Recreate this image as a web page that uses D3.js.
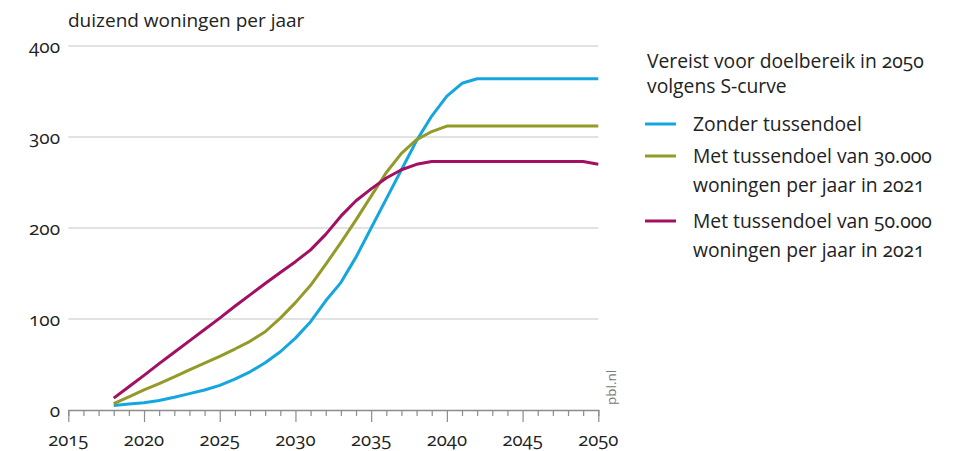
<!DOCTYPE html>
<html>
<head>
<meta charset="utf-8">
<script src="https://cdn.jsdelivr.net/npm/d3@7"></script>
<style>
  html, body { margin: 0; padding: 0; background: #fff; }
  svg { display: block; }
  text { font-family: "Open Sans", "Noto Sans", sans-serif; fill: #222; font-feature-settings: "onum"; }
</style>
</head>
<body>
<svg id="chart" width="955" height="451"></svg>
<script>
// ---- data ----
const years = d3.range(2018, 2051);
const zonderTussendoel = [5, 6.5, 8, 10.5, 14, 18, 22, 27, 34, 42, 52, 64, 79, 97, 120, 140, 168, 200, 232, 264, 296, 323, 345, 359, 364, 364, 364, 364, 364, 364, 364, 364, 364];
const tussendoel30 = [7, 14.5, 22, 29, 36.5, 44, 51.5, 59, 67, 75.5, 86, 101, 118, 137, 160, 184, 209, 235, 261, 282, 297, 306, 312, 312, 312, 312, 312, 312, 312, 312, 312, 312, 312];
const tussendoel50 = [13, 25.5, 38, 51, 63.5, 76, 88.5, 101, 114, 126.5, 139, 151, 163, 176, 193, 213, 230, 243, 255, 264, 270, 273, 273, 273, 273, 273, 273, 273, 273, 273, 273, 273, 270];
const seriesNames = ["Zonder tussendoel", "Met tussendoel van 30.000\nwoningen per jaar in 2021", "Met tussendoel van 50.000\nwoningen per jaar in 2021"];
const seriesColors = ["#15a6df", "#939a28", "#a20f63"];
const yTicks = [0, 100, 200, 300, 400];
const xTicks = [2015, 2020, 2025, 2030, 2035, 2040, 2045, 2050];
const yLabel = "duizend woningen per jaar";
const legendTitle = ["Vereist voor doelbereik in 2050", "volgens S-curve"];
const sourceLabel = "pbl.nl";

// ---- layout ----
const svg = d3.select("#chart");
const x = d3.scaleLinear().domain([2015, 2050]).range([68.3, 598.3]);
const y = d3.scaleLinear().domain([0, 400]).range([410, 46]);

// gridlines
svg.append("g").selectAll("line").data(yTicks.filter(d => d > 0)).join("line")
  .attr("x1", x(2015)).attr("x2", x(2050))
  .attr("y1", d => y(d)).attr("y2", d => y(d))
  .attr("stroke", "#d9d9d9").attr("stroke-width", 1.3);

// y tick labels
svg.append("g").selectAll("text").data(yTicks).join("text")
  .attr("x", 60).attr("y", d => y(d)).attr("dy", "0.35em")
  .attr("text-anchor", "end").attr("font-size", 19)
  .text(d => d);

// x axis
const xAxis = d3.axisBottom(x)
  .tickValues(d3.range(2015, 2051))
  .tickSize(6)
  .tickFormat("");
const gx = svg.append("g").attr("transform", `translate(0,${y(0)})`).call(xAxis);
gx.select(".domain").attr("stroke", "#8c8c8c").attr("stroke-width", 1.3);
gx.selectAll(".tick line").attr("stroke", "#8c8c8c").attr("stroke-width", 1.2)
  .attr("y2", d => (d % 5 === 0 ? 12 : 6));
svg.append("g").selectAll("text").data(xTicks).join("text")
  .attr("x", d => x(d)).attr("y", 446)
  .attr("text-anchor", "middle").attr("font-size", 18.5)
  .text(d => d);

// y label
svg.append("text").attr("x", 68).attr("y", 27).attr("font-size", 19).text(yLabel);

// lines
const allSeries = [zonderTussendoel, tussendoel30, tussendoel50];
const line = d3.line().x((d, i) => x(years[i])).y(d => y(d));
svg.append("g").selectAll("path").data(allSeries).join("path")
  .attr("d", d => line(d))
  .attr("fill", "none")
  .attr("stroke", (d, i) => seriesColors[i])
  .attr("stroke-width", 3)
  .attr("stroke-linejoin", "round");

// source
svg.append("text")
  .attr("transform", `translate(${616},${405}) rotate(-90)`)
  .attr("font-size", 13.5).style("fill", "#7a7a7a")
  .text(sourceLabel);

// legend
const lg = svg.append("g");
lg.selectAll("text.title").data(legendTitle).join("text").attr("class", "title")
  .attr("x", 647).attr("y", (d, i) => 61 + i * 25).attr("dy", "0.35em")
  .attr("font-size", 19.3).text(d => d);
const itemY = [124, 156, 221];
const items = lg.selectAll("g.item").data(seriesNames).join("g").attr("class", "item")
  .attr("transform", (d, i) => `translate(0,${itemY[i]})`);
items.append("line").attr("x1", 645).attr("x2", 676).attr("y1", 0).attr("y2", 0)
  .attr("stroke", (d, i) => seriesColors[i]).attr("stroke-width", 3);
items.each(function(d) {
  const g = d3.select(this);
  d.split("\n").forEach((t, j) => {
    g.append("text").attr("x", 693).attr("y", j * 29).attr("dy", "0.35em")
      .attr("font-size", 19.3).text(t);
  });
});
</script>
</body>
</html>
